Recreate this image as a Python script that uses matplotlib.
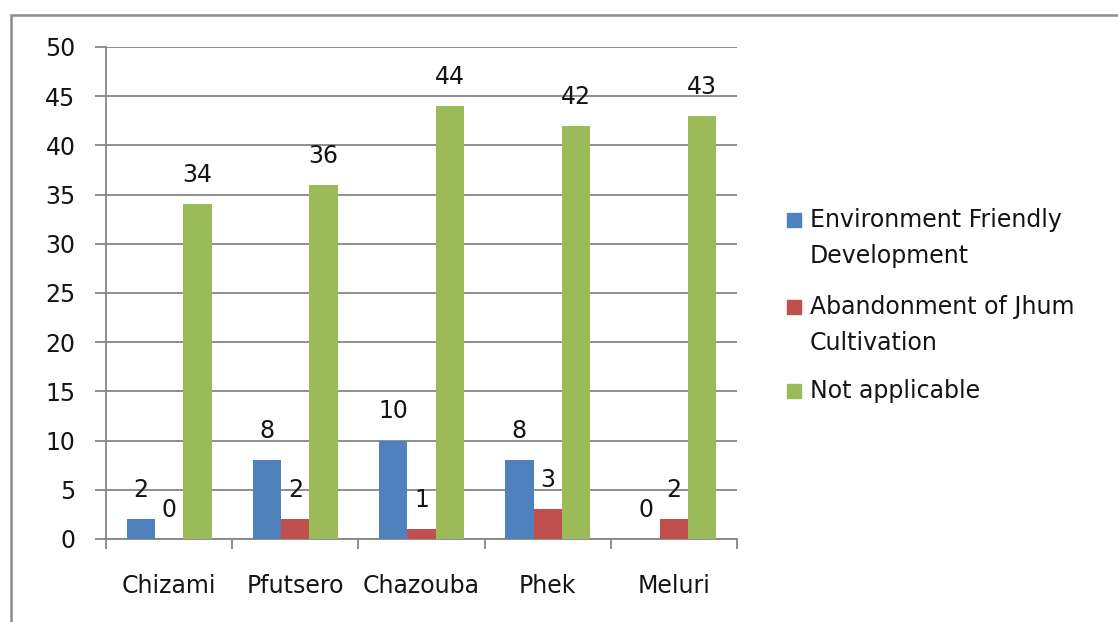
import numpy as np
import matplotlib.pyplot as plt
import matplotlib.patches as patches

plt.rcParams['font.family'] = ['DejaVu Sans']

places = ["Chizami", "Pfutsero", "Chazouba", "Phek", "Meluri"]
series = ["Environment Friendly\nDevelopment",
          "Abandonment of Jhum\nCultivation",
          "Not applicable"]
env_friendly = [2, 8, 10, 8, 0]
jhum_abandon = [0, 2, 1, 3, 2]
not_applicable = [34, 36, 44, 42, 43]
colors = ["#4F81BD", "#C0504D", "#9BBB59"]

grid_col = "#868686"
txt_col = "#141414"
fs = 17

fig = plt.figure(figsize=(11.18, 6.22), dpi=100)
# chart frame, runs off the right and bottom edges
fig.patches.append(patches.Rectangle((11 / 1118, -0.1), 1.2, (622 - 15) / 622 + 0.1,
                                     transform=fig.transFigure, fill=False,
                                     edgecolor="#8c8c8c", lw=1.8))

ax = fig.add_axes([106 / 1118, 83 / 622, 631 / 1118, 492 / 622])

x = np.arange(len(places))
w = 0.224
for i, vals in enumerate([env_friendly, jhum_abandon, not_applicable]):
    pos = x + (i - 1) * w
    ax.bar(pos, vals, w, color=colors[i], zorder=3)
    for p, v in zip(pos, vals):
        ax.annotate(str(v), (p, v), xytext=(0, 21), textcoords="offset points",
                    ha="center", va="center", fontsize=fs, color=txt_col)

ax.set_xlim(-0.5, len(places) - 0.5)
ax.set_ylim(0, 50)
ax.set_yticks(range(0, 51, 5))
ax.yaxis.grid(True, color=grid_col, lw=1.3, zorder=0)
ax.set_xticks(x)
ax.set_xticklabels(places)
ax.set_xticks(np.arange(-0.5, len(places), 1), minor=True)
ax.tick_params(axis="x", which="major", length=0, pad=25, labelsize=fs, labelcolor=txt_col)
ax.tick_params(axis="x", which="minor", length=7, width=1.3, color=grid_col)
ax.tick_params(axis="y", length=8, width=1.3, color=grid_col, pad=14,
               labelsize=fs, labelcolor=txt_col)

for s in ["top", "right"]:
    ax.spines[s].set_visible(False)
for s in ["left", "bottom"]:
    ax.spines[s].set_color(grid_col)
    ax.spines[s].set_linewidth(1.3)

# legend drawn by hand so the swatch sits by the first line of each entry
legend_y = [220, 307, 391]
for name, col, yy in zip(series, colors, legend_y):
    fig.patches.append(patches.Rectangle((787 / 1118, 1 - (yy + 7) / 622), 14 / 1118, 14 / 622,
                                         transform=fig.transFigure, color=col))
    fig.text(810 / 1118, 1 - (yy - 12) / 622, name, fontsize=fs, color=txt_col,
             ha="left", va="top", linespacing=1.65)

plt.savefig("out.png", dpi=100)
